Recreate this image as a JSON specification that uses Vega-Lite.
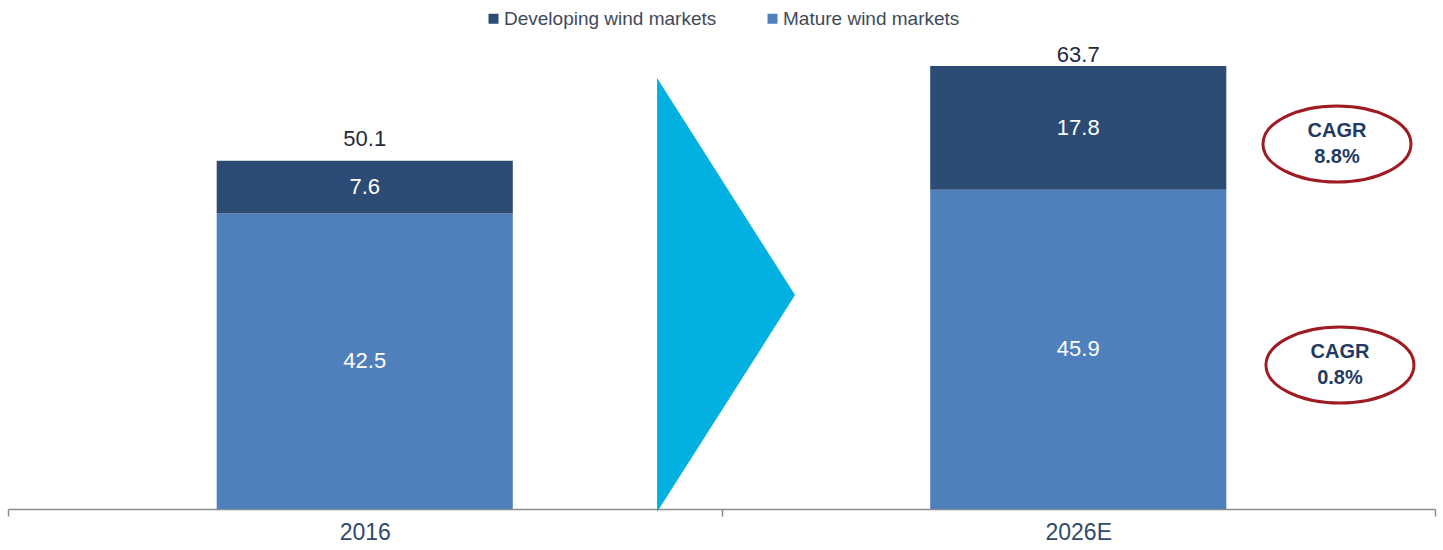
{
  "$schema": "https://vega.github.io/schema/vega-lite/v6.json",
  "width": 1427,
  "height": 509,
  "autosize": "none",
  "padding": {"left": 8, "right": 8, "top": 0, "bottom": 41},
  "background": "white",
  "config": {
    "view": {"stroke": null},
    "font": "Liberation Sans",
    "axis": {"grid": false}
  },
  "datasets": {
    "segments": [
      {"year": "2016", "segment": "Mature wind markets", "value": 42.5},
      {"year": "2016", "segment": "Developing wind markets", "value": 7.6},
      {"year": "2026E", "segment": "Mature wind markets", "value": 45.9},
      {"year": "2026E", "segment": "Developing wind markets", "value": 17.8}
    ],
    "totals": [
      {"year": "2016", "total": 50.1},
      {"year": "2026E", "total": 63.7}
    ],
    "arrow": [{"px": 0.5032, "py": 30.77}],
    "cagr": [
      {"px": 0.9313, "py": 52.5, "label": "CAGR\n8.8%"},
      {"px": 0.9334, "py": 20.7, "label": "CAGR\n0.8%"}
    ]
  },
  "layer": [
    {
      "layer": [
        {
          "data": {"name": "segments"},
          "transform": [
            {"stack": "value", "groupby": ["year"], "as": ["y0", "y1"], "sort": [{"field": "segment", "order": "descending"}]},
            {"calculate": "(datum.y0 + datum.y1) / 2", "as": "mid"}
          ],
          "layer": [
            {
              "mark": {"type": "bar", "width": {"band": 0.415}},
              "encoding": {
                "x": {
                  "field": "year", "type": "nominal", "title": null,
                  "scale": {"paddingInner": 0, "paddingOuter": 0},
                  "axis": {
                    "tickBand": "extent", "domainColor": "#8C8C8C", "domainWidth": 1.5,
                    "tickColor": "#8C8C8C", "tickWidth": 1.5, "tickSize": 7,
                    "labelFontSize": 23, "labelColor": "#2F4A6A", "labelPadding": 5,
                    "labelAngle": 0, "labelFont": "Liberation Sans"
                  }
                },
                "y": {"field": "y0", "type": "quantitative", "scale": {"domain": [0, 73.2], "nice": false, "zero": true}, "axis": null},
                "y2": {"field": "y1"},
                "color": {
                  "field": "segment", "type": "nominal",
                  "scale": {"domain": ["Developing wind markets", "Mature wind markets"], "range": ["#2D4C75", "#4F80BC"]},
                  "legend": {
                    "title": null, "orient": "none", "direction": "horizontal",
                    "legendX": 476, "legendY": 9, "padding": 0,
                    "symbolType": "square", "symbolSize": 100, "symbolStrokeWidth": 0,
                    "labelFontSize": 19, "labelColor": "#3F4A5A", "labelFont": "Liberation Sans",
                    "labelOffset": 1, "columnPadding": 46, "labelLimit": 0
                  }
                }
              }
            },
            {
              "mark": {"type": "text", "color": "white", "fontSize": 22, "font": "Liberation Sans", "baseline": "middle"},
              "encoding": {
                "x": {"field": "year", "type": "nominal"},
                "y": {"field": "mid", "type": "quantitative", "scale": {"domain": [0, 73.2], "nice": false}},
                "text": {"field": "value", "type": "quantitative", "format": ".1f"}
              }
            }
          ]
        },
        {
          "data": {"name": "totals"},
          "transform": [{"filter": "datum.year == '2016'"}],
          "mark": {"type": "text", "color": "#1F2A3A", "fontSize": 22, "font": "Liberation Sans", "baseline": "alphabetic", "dy": -15},
          "encoding": {
            "x": {"field": "year", "type": "nominal"},
            "y": {"field": "total", "type": "quantitative", "scale": {"domain": [0, 73.2], "nice": false}},
            "text": {"field": "total", "type": "quantitative", "format": ".1f"}
          }
        },
        {
          "data": {"name": "totals"},
          "transform": [{"filter": "datum.year == '2026E'"}],
          "mark": {"type": "text", "color": "#1F2A3A", "fontSize": 22, "font": "Liberation Sans", "baseline": "alphabetic", "dy": -4},
          "encoding": {
            "x": {"field": "year", "type": "nominal"},
            "y": {"field": "total", "type": "quantitative", "scale": {"domain": [0, 73.2], "nice": false}},
            "text": {"field": "total", "type": "quantitative", "format": ".1f"}
          }
        }
      ]
    },
    {
      "layer": [
        {
          "data": {"name": "arrow"},
          "mark": {"type": "point", "shape": "M -0.318 -1 L 0.318 0 L -0.318 1 Z", "size": 188356, "filled": true, "color": "#02B1E2", "opacity": 1, "strokeWidth": 0},
          "encoding": {
            "x": {"field": "px", "type": "quantitative", "scale": {"domain": [0, 1]}, "axis": null},
            "y": {"field": "py", "type": "quantitative", "scale": {"domain": [0, 73.2], "nice": false}}
          }
        },
        {
          "data": {"name": "cagr"},
          "mark": {"type": "point", "shape": "M -1 0 A 1 0.514 0 1 1 1 0 A 1 0.514 0 1 1 -1 0 Z", "size": 21904, "filled": false, "stroke": "#9E1B22", "strokeWidth": 3, "opacity": 1},
          "encoding": {
            "x": {"field": "px", "type": "quantitative", "scale": {"domain": [0, 1]}, "axis": null},
            "y": {"field": "py", "type": "quantitative", "scale": {"domain": [0, 73.2], "nice": false}}
          }
        },
        {
          "data": {"name": "cagr"},
          "mark": {"type": "text", "fontSize": 20, "fontWeight": "bold", "color": "#1F3B63", "font": "Liberation Sans", "lineBreak": "\n", "lineHeight": 26, "baseline": "middle", "dy": -13},
          "encoding": {
            "x": {"field": "px", "type": "quantitative", "scale": {"domain": [0, 1]}, "axis": null},
            "y": {"field": "py", "type": "quantitative", "scale": {"domain": [0, 73.2], "nice": false}},
            "text": {"field": "label", "type": "nominal"}
          }
        }
      ]
    }
  ],
  "resolve": {"scale": {"x": "independent"}, "axis": {"x": "independent"}}
}
